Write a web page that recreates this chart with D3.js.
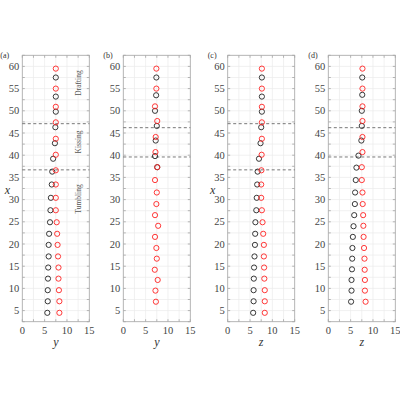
<!DOCTYPE html>
<html><head><meta charset="utf-8">
<script src="https://cdn.jsdelivr.net/npm/d3@7"></script>
<style>body{margin:0;background:#fff}svg{display:block}</style>
</head><body>
<script>
const panelLabels = ["(a)","(b)","(c)","(d)"];
const xLabels = ["y","y","z","z"];
const xTicks = [0,5,10,15];
const yTicks = [5,10,15,20,25,30,35,40,45,50,55,60];
const regimeNames = ["Drafting","Kissing","Tumbling"];
const regimePos = [83,142,199];

const hA = [59.5,55.0,50.9,47.4,43.7,40.1,36.6,33.4,30.4,27.6,24.9,22.3,19.8,17.2,14.7,12.2,9.6,7.1,4.5];
const hAblack = [57.5,53.2,49.8,46.3,42.7,39.2,36.3,33.4,30.4,27.6,24.9,22.3,19.8,17.2,14.7,12.2,9.6,7.1,4.5];
const redA = [7.5,7.5,7.5,7.5,7.5,7.5,7.5,7.5,7.5,7.5,7.7,7.8,7.9,8.0,8.1,8.1,8.2,8.3,8.3];
const blackA = [7.5,7.5,7.5,7.4,7.3,6.9,6.7,6.6,6.4,6.3,6.2,6.0,5.9,5.9,5.8,5.75,5.7,5.7,5.6];

const hB = [59.5,55.0,51.0,47.7,44.1,40.7,37.3,34.4,31.6,29.0,26.5,24.1,21.6,19.1,16.7,14.2,11.9,9.5,7.0];
const redB = [7.4,7.4,7.1,7.6,7.25,7.2,7.6,7.1,7.5,7.4,7.1,7.8,7.1,7.4,7.5,7.05,7.7,7.2,7.3];
const hBblack = [57.5,53.5,50.0,46.6,43.3,39.8,37.3];
const blackB = [7.4,7.35,7.1,7.5,7.25,7.1,7.6];

const redC = [7.65,7.65,7.65,7.65,7.65,7.6,7.55,7.5,7.5,7.65,7.8,7.95,8.1,8.1,8.15,8.2,8.3,8.3,8.3];
const blackC = [7.65,7.65,7.65,7.5,7.35,7.0,6.7,6.6,6.5,6.4,6.2,6.15,6.1,6.0,5.9,5.85,5.8,5.8,5.7];

const hDblack = [57.5,53.6,50.0,46.6,43.3,39.9,37.2,34.4,31.6,29.0,26.5,24.0,21.6,19.1,16.7,14.3,11.9,9.5,7.0];
const redD = [7.65,7.65,7.65,7.65,7.65,7.65,7.5,7.5,7.65,7.7,7.8,7.85,7.9,8.0,8.1,8.15,8.2,8.2,8.35];
const blackD = [7.6,7.6,7.5,7.5,7.4,6.75,6.3,6.15,6.0,5.95,5.8,5.65,5.5,5.4,5.35,5.3,5.2,5.2,5.1];

const dashAC = [47.1,36.7];
const dashBD = [46.2,39.6];

const panels = [
  {red:[hA,redA], black:[hAblack,blackA], dash:dashAC, xlab:true, regimes:true},
  {red:[hB,redB], black:[hBblack,blackB], dash:dashBD, xlab:false, regimes:false},
  {red:[hA,redC], black:[hAblack,blackC], dash:dashAC, xlab:true, regimes:false},
  {red:[hB,redD], black:[hDblack,blackD], dash:dashBD, xlab:false, regimes:false}
];
const lefts = [22.3,123.3,227.7,328.3];
const W = 67, plotTop = 55.3, plotBottom = 321.7;

const svg = d3.select("body").append("svg").attr("width",400).attr("height",400);
const font = "'Liberation Serif', serif";

panels.forEach((p,i)=>{
  const x = d3.scaleLinear().domain([0,15]).range([lefts[i], lefts[i]+W]);
  const y = d3.scaleLinear().domain([2.5,62.5]).range([plotBottom, plotTop]);
  const g = svg.append("g");
  const minor = d3.range(0,15.01,2.5);
  const minorY = d3.range(2.5,62.51,2.5);
  g.selectAll(".gv").data(minor).enter().append("line")
    .attr("x1",d=>x(d)).attr("x2",d=>x(d)).attr("y1",plotTop).attr("y2",plotBottom)
    .attr("stroke","#ebebeb").attr("stroke-width",0.7);
  g.selectAll(".gh").data(minorY).enter().append("line")
    .attr("y1",d=>y(d)).attr("y2",d=>y(d)).attr("x1",x(0)).attr("x2",x(15))
    .attr("stroke","#ebebeb").attr("stroke-width",0.7);
  const tl = 2.5;
  minor.forEach(v=>{
    g.append("line").attr("x1",x(v)).attr("x2",x(v)).attr("y1",plotBottom).attr("y2",plotBottom-tl).attr("stroke","#999").attr("stroke-width",0.7);
    g.append("line").attr("x1",x(v)).attr("x2",x(v)).attr("y1",plotTop).attr("y2",plotTop+tl).attr("stroke","#999").attr("stroke-width",0.7);
  });
  minorY.forEach(v=>{
    g.append("line").attr("y1",y(v)).attr("y2",y(v)).attr("x1",x(0)).attr("x2",x(0)+tl).attr("stroke","#999").attr("stroke-width",0.7);
    g.append("line").attr("y1",y(v)).attr("y2",y(v)).attr("x1",x(15)).attr("x2",x(15)-tl).attr("stroke","#999").attr("stroke-width",0.7);
  });
  g.append("rect").attr("x",x(0)).attr("y",plotTop).attr("width",W).attr("height",plotBottom-plotTop)
    .attr("fill","none").attr("stroke","#aaa").attr("stroke-width",0.8);
  g.selectAll(".xt").data(xTicks).enter().append("text")
    .attr("x",d=>x(d)).attr("y",plotBottom+12).attr("text-anchor","middle")
    .attr("font-family",font).attr("font-size",10.5).attr("fill","#444").text(d=>d);
  g.selectAll(".yt").data(yTicks).enter().append("text")
    .attr("x",x(0)-3).attr("y",d=>y(d)+3.5).attr("text-anchor","end")
    .attr("font-family",font).attr("font-size",10.5).attr("fill","#444").text(d=>d);
  g.append("text").attr("x",x(7.5)).attr("y",plotBottom+24).attr("text-anchor","middle")
    .attr("font-family",font).attr("font-style","italic").attr("font-size",12).attr("fill","#333").text(xLabels[i]);
  if(p.xlab){
    g.append("text").attr("x",lefts[i]-15).attr("y",y(32)+3).attr("text-anchor","middle")
      .attr("font-family",font).attr("font-style","italic").attr("font-size",12).attr("fill","#333").text("x");
  }
  g.append("text").attr("x",lefts[i]-(i===0?22:20)).attr("y",plotTop+3).attr("font-family",font)
    .attr("font-size",8).attr("fill","#333").text(panelLabels[i]);
  g.selectAll(".dl").data(p.dash).enter().append("line")
    .attr("x1",x(0)).attr("x2",x(15)).attr("y1",d=>y(d)).attr("y2",d=>y(d))
    .attr("stroke","#555").attr("stroke-width",0.8).attr("stroke-dasharray","3,2.5");
  if(p.regimes){
    regimeNames.forEach((n,k)=>{
      g.append("text").attr("transform",`translate(${x(13.2)},${regimePos[k]}) rotate(-90)`)
        .attr("text-anchor","middle").attr("font-family",font).attr("font-size",7.5).attr("fill","#555").text(n);
    });
  }
  const [bh,bl] = p.black;
  g.selectAll(".bk").data(bh).enter().append("circle")
    .attr("cx",(d,j)=>x(bl[j])).attr("cy",d=>y(d)).attr("r",2.6)
    .attr("fill","none").attr("stroke","#222").attr("stroke-width",0.9);
  const [rh,rl] = p.red;
  g.selectAll(".rd").data(rh).enter().append("circle")
    .attr("cx",(d,j)=>x(rl[j])).attr("cy",d=>y(d)).attr("r",2.6)
    .attr("fill","none").attr("stroke","#f22").attr("stroke-width",0.9);
});
</script>
</body></html>
